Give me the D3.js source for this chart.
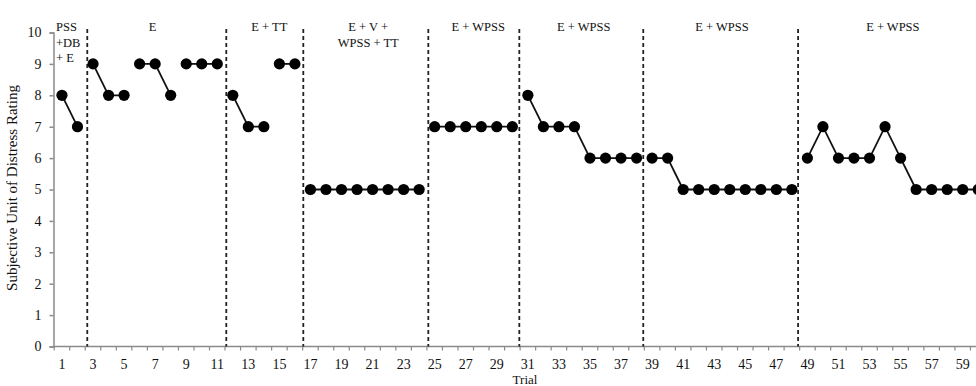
<!DOCTYPE html>
<html lang="en">
<head>
<meta charset="utf-8">
<title>SUDS by trial</title>
<script src="https://d3js.org/d3.v7.min.js"></script>
<style>
  body { margin: 0; background: #fff; }
  text { font-family: "Liberation Serif", "Times New Roman", serif; fill: #111; }
</style>
</head>
<body>
<script>
// trials 1..60 and SUDS rating per trial
const trials = d3.range(1, 61);
const suds = [8, 7,
              9, 8, 8, 9, 9, 8, 9, 9, 9,
              8, 7, 7, 9, 9,
              5, 5, 5, 5, 5, 5, 5, 5,
              7, 7, 7, 7, 7, 7,
              8, 7, 7, 7, 6, 6, 6, 6,
              6, 6, 5, 5, 5, 5, 5, 5, 5, 5,
              6, 7, 6, 6, 6, 7, 6, 5, 5, 5, 5, 5];
// line breaks after these trials
const breaks = [2, 5, 8, 11, 14, 16, 24, 30, 38, 48];
// phase change lines (in trial units)
const phaseLines = [2.63, 11.58, 16.54, 24.59, 30.45, 38.43, 48.4];
const phaseLabels = [["PSS", "+DB", "+ E"], ["E"], ["E + TT"], ["E + V +", "WPSS +  TT"],
                     ["E + WPSS"], ["E + WPSS"], ["E + WPSS"], ["E + WPSS"]];
const labelAt = [0.7, 6.84, 14.35, 20.72, 27.8, 34.6, 43.5, 54.5];
const yTicks = d3.range(0, 11);
const xLabels = trials.filter(t => t % 2 === 1);

const w = 976, h = 386;
const svg = d3.select("body").append("svg").attr("width", w).attr("height", h);

const x = d3.scaleLinear().domain([0.5, 60.5]).range([54.2, 54.2 + 60 * 15.53]);
const y = d3.scaleLinear().domain([0, 10]).range([346.5, 32.5]);

// y axis
const yAxis = svg.append("g").attr("transform", "translate(53.5,0)")
  .call(d3.axisLeft(y).tickValues(yTicks).tickSize(4).tickPadding(8));
yAxis.select(".domain").attr("stroke", "#8a8a8a").attr("stroke-width", 1.5);
yAxis.selectAll(".tick line").attr("stroke", "#8a8a8a").attr("stroke-width", 1.5);
yAxis.selectAll(".tick text").style("font-size", "14px").attr("fill", "#111");

// x axis: ticks between categories, labels on odd trials
const xg = svg.append("g").attr("transform", `translate(0,${y(0)})`);
xg.append("line").attr("x1", 53).attr("x2", w).attr("stroke", "#8a8a8a").attr("stroke-width", 1.5);
xg.selectAll("line.tk").data(d3.range(0.5, 61, 1)).join("line").attr("class", "tk")
  .attr("x1", d => x(d)).attr("x2", d => x(d)).attr("y1", 0).attr("y2", 4)
  .attr("stroke", "#8a8a8a").attr("stroke-width", 1.2);
xg.selectAll("text").data(xLabels).join("text")
  .attr("x", d => x(d)).attr("y", 22).attr("text-anchor", "middle")
  .style("font-size", "14px").text(d => d);

// axis titles
svg.append("text").attr("x", 525).attr("y", 384).attr("text-anchor", "middle")
  .style("font-size", "13px").text("Trial");
svg.append("text").attr("transform", "translate(17,188) rotate(-90)").attr("text-anchor", "middle")
  .style("font-size", "15px").text("Subjective Unit of Distress Rating");

// phase change lines
svg.selectAll("line.phase").data(phaseLines).join("line").attr("class", "phase")
  .attr("x1", d => x(d)).attr("x2", d => x(d)).attr("y1", 29).attr("y2", y(0))
  .attr("stroke", "#222").attr("stroke-width", 1.8).attr("stroke-dasharray", "4,3");

// phase labels
phaseLabels.forEach((lines, i) => {
  const t = svg.append("text").style("font-size", "12.5px")
    .attr("text-anchor", i === 0 ? "start" : "middle");
  lines.forEach((l, j) => {
    t.append("tspan").attr("x", i === 0 ? 56 : x(labelAt[i])).attr("y", 31 + j * 15.5).text(l);
  });
});

// segments
const points = trials.map((t, i) => ({ t, v: suds[i] }));
const segs = [];
let cur = [];
points.forEach(p => {
  cur.push(p);
  if (breaks.includes(p.t)) { segs.push(cur); cur = []; }
});
if (cur.length) segs.push(cur);

const line = d3.line().x(d => x(d.t)).y(d => y(d.v));
svg.selectAll("path.seg").data(segs).join("path").attr("class", "seg")
  .attr("d", line).attr("fill", "none").attr("stroke", "#111").attr("stroke-width", 1.8);
svg.selectAll("circle").data(points).join("circle")
  .attr("cx", d => x(d.t)).attr("cy", d => y(d.v)).attr("r", 5.6).attr("fill", "#000");
</script>
</body>
</html>
